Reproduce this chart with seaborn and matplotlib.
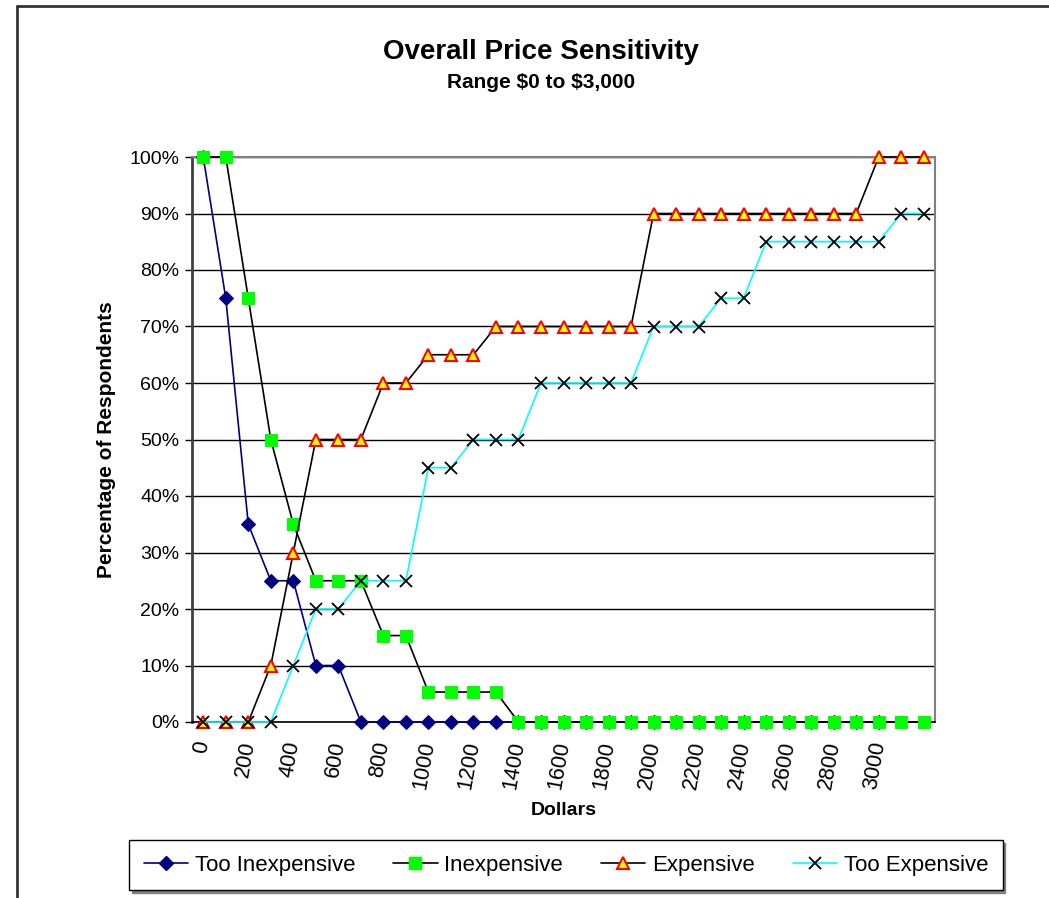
import seaborn as sns
import matplotlib.pyplot as plt
import matplotlib.lines as mlines
import pandas as pd
import numpy as np

# data (percent of respondents), price points 0..3200 step 100
dollars = list(range(0, 3300, 100))
too_inexpensive = [100, 75, 35, 25, 25, 10, 10, 0, 0, 0, 0, 0, 0, 0, 0, 0,
                   0, 0, 0, 0, 0, 0, 0, 0, 0, 0, 0, 0, 0, 0, 0, np.nan, np.nan]
inexpensive = [100, 100, 75, 50, 35, 25, 25, 25, 15.3, 15.3, 5.3, 5.3, 5.3, 5.3, 0, 0,
               0, 0, 0, 0, 0, 0, 0, 0, 0, 0, 0, 0, 0, 0, 0, 0, 0]
expensive = [0, 0, 0, 10, 30, 50, 50, 50, 60, 60, 65, 65, 65, 70, 70, 70,
             70, 70, 70, 70, 90, 90, 90, 90, 90, 90, 90, 90, 90, 90, 100, 100, 100]
too_expensive = [0, 0, 0, 0, 10, 20, 20, 25, 25, 25, 45, 45, 50, 50, 50, 60,
                 60, 60, 60, 60, 70, 70, 70, 75, 75, 85, 85, 85, 85, 85, 85, 90, 90]
tick_labels = [str(d) for d in range(0, 3100, 200)]

df = pd.DataFrame({
    'idx': np.arange(len(dollars)),
    'Too Inexpensive': np.array(too_inexpensive, dtype=float) / 100,
    'Inexpensive': np.array(inexpensive) / 100,
    'Expensive': np.array(expensive) / 100,
    'Too Expensive': np.array(too_expensive) / 100,
})

sns.set_style("white")
plt.rcParams['font.family'] = ['Liberation Sans', 'DejaVu Sans']
plt.rcParams['text.color'] = 'black'
plt.rcParams['axes.labelcolor'] = 'black'
plt.rcParams['xtick.color'] = 'black'
plt.rcParams['ytick.color'] = 'black'

fig = plt.figure(figsize=(10.49, 8.98), dpi=100)
ax = fig.add_axes([192 / 1049, 176 / 898, 743 / 1049, 565 / 898])

styles = {
    'Too Inexpensive': dict(color='#000080', marker='D', markersize=7,
                            markerfacecolor='#000080', markeredgecolor='#000080'),
    'Inexpensive': dict(color='black', marker='s', markersize=8,
                        markerfacecolor='#00FF00', markeredgecolor='#00FF00'),
    'Expensive': dict(color='black', marker='^', markersize=9,
                      markerfacecolor='#FFFF00', markeredgecolor='#FF0000', markeredgewidth=1.5),
    'Too Expensive': dict(color='#00FFFF', marker='x', markersize=8,
                          markeredgecolor='black', markeredgewidth=1.3),
}

for name, st in styles.items():
    sns.lineplot(data=df, x='idx', y=name, ax=ax, linewidth=1.2, zorder=3,
                 clip_on=False, **st)

ax.set_xlim(-0.5, len(dollars) - 0.5)
ax.set_ylim(0, 1)
ax.set_yticks(np.arange(0, 1.01, 0.1))
ax.set_yticklabels([f"{int(round(v * 100))}%" for v in np.arange(0, 1.01, 0.1)], fontsize=14)
ax.set_xticks(np.arange(0, 31, 2))
ax.set_xticklabels(tick_labels, fontsize=15.5, rotation=80, ha='right', va='center',
                   rotation_mode='anchor')
ax.set_xticks(np.arange(-0.5, len(dollars), 1), minor=True)
ax.tick_params(axis='x', which='major', length=0, pad=14)
ax.tick_params(axis='x', which='minor', length=5, width=1, color='black', direction='out')
ax.tick_params(axis='y', length=5, width=1, color='black', direction='out', left=True, pad=4)

ax.grid(axis='y', color='black', linewidth=1)
ax.set_axisbelow(True)
for s in ['top', 'right']:
    ax.spines[s].set_color('#808080')
    ax.spines[s].set_linewidth(1.5)
ax.spines['left'].set_color('#404040')
ax.spines['left'].set_linewidth(2)
ax.spines['bottom'].set_color('black')
ax.spines['bottom'].set_linewidth(1.2)

ax.set_xlabel('Dollars', fontsize=14, fontweight='bold', labelpad=8)
ax.set_ylabel('Percentage of Respondents', fontsize=15, fontweight='bold', labelpad=10)

fig.text(541 / 1049, 1 - 52 / 898, 'Overall Price Sensitivity', fontsize=20,
         fontweight='bold', ha='center', va='center')
fig.text(541 / 1049, 1 - 82 / 898, r'Range \$0 to \$3,000', fontsize=15,
         fontweight='bold', ha='center', va='center')

handles = [mlines.Line2D([], [], linewidth=1.2, **st) for st in styles.values()]
leg = fig.legend(handles, list(styles.keys()), loc='center', ncol=4,
                 bbox_to_anchor=(566 / 1049, 1 - 865 / 898), fontsize=16,
                 frameon=True, fancybox=False, edgecolor='black',
                 handlelength=2.0, handletextpad=0.3, columnspacing=1.7,
                 borderpad=0.65, shadow={'color': '#808080', 'alpha': 1})
leg.get_frame().set_linewidth(1)

# chart area border
fig.add_artist(mlines.Line2D([17 / 1049, 17 / 1049], [0, 1 - 6 / 898],
                             transform=fig.transFigure, color='#333333', linewidth=2))
fig.add_artist(mlines.Line2D([17 / 1049, 1], [1 - 6 / 898, 1 - 6 / 898],
                             transform=fig.transFigure, color='#333333', linewidth=2))

fig.savefig('out.png', dpi=100)
